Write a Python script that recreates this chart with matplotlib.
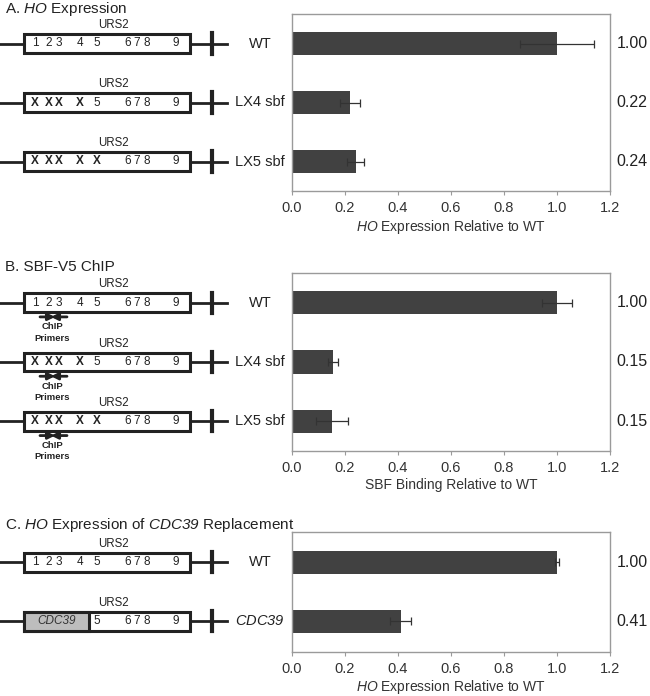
import matplotlib
matplotlib.use('Agg')
import matplotlib.pyplot as plt
from matplotlib.patches import Rectangle
from matplotlib.transforms import blended_transform_factory

plt.rcParams['font.family'] = ['Liberation Sans', 'DejaVu Sans']
plt.rcParams['mathtext.fontset'] = 'custom'
plt.rcParams['mathtext.rm'] = 'Liberation Sans'
# sf slot used for italic gene names so digits come out italic too
plt.rcParams['mathtext.sf'] = 'Liberation Sans:italic'
plt.rcParams['mathtext.it'] = 'Liberation Sans:italic'

# data
strains_a = ['WT', 'LX4 sbf', 'LX5 sbf']
expr_a = [1.00, 0.22, 0.24]
err_a = [0.14, 0.037, 0.031]

strains_b = ['WT', 'LX4 sbf', 'LX5 sbf']
bind_b = [1.00, 0.155, 0.15]
err_b = [0.057, 0.02, 0.061]

strains_c = ['WT', '$\\mathsf{CDC39}$']
expr_c = [1.00, 0.41]
err_c = [0.008, 0.039]

# number of mutated sites (from the left) for each promoter row
mut_a = [0, 4, 5]
mut_b = [0, 4, 5]
sites = ['1', '2', '3', '4', '5', '6', '7', '8', '9']

# layout (pixels)
W, H = 650, 696
site_x = [35, 49, 59, 80, 97, 128, 137, 147, 176]
box_l, box_r = 24, 190
INK = '#222222'

fig = plt.figure(figsize=(W / 100, H / 100), dpi=100)
over = fig.add_axes([0, 0, 1, 1])
over.set_xlim(0, W)
over.set_ylim(H, 0)
over.axis('off')


def px_axes(left, top, right, bottom):
    return fig.add_axes([left / W, (H - bottom) / H, (right - left) / W, (bottom - top) / H])


def promoter(ax, y, nmut=0, cdc=False, chip=False):
    tr = blended_transform_factory(over.transData, ax.transData)
    h = 0.32
    ax.plot([0, box_l], [y, y], color=INK, lw=2, transform=tr, clip_on=False)
    ax.plot([box_r, 227], [y, y], color=INK, lw=2, transform=tr, clip_on=False)
    ax.plot([212, 212], [y - 0.17, y + 0.17], color=INK, lw=3, transform=tr, clip_on=False)
    ax.add_patch(Rectangle((box_l, y - h / 2), box_r - box_l, h, facecolor='white',
                           edgecolor=INK, lw=2.2, transform=tr, clip_on=False, zorder=3))
    start = 0
    if cdc:
        ax.add_patch(Rectangle((box_l, y - h / 2), 89 - box_l, h, facecolor='#bdbdbd',
                               edgecolor=INK, lw=2.2, transform=tr, clip_on=False, zorder=4))
        ax.text((box_l + 89) / 2, y, 'CDC39', style='italic', fontsize=8.5, ha='center',
                va='center', color='#333333', transform=tr, zorder=5)
        start = 4
    for i in range(start, len(sites)):
        if i < nmut:
            ax.text(site_x[i], y, 'X', fontsize=8.5, fontweight='bold', ha='center',
                    va='center', color=INK, transform=tr, zorder=5)
        else:
            ax.text(site_x[i], y, sites[i], fontsize=8.5, ha='center', va='center',
                    color=INK, transform=tr, zorder=5)
    ax.text(113, y - 0.31, 'URS2', fontsize=8.3, ha='center', va='center',
            color=INK, transform=tr)
    if chip:
        yy = y + 0.24
        ax.annotate('', xy=(55, yy), xytext=(40, yy), xycoords=tr, textcoords=tr,
                    arrowprops=dict(arrowstyle='-|>', lw=2, color=INK, mutation_scale=10,
                                    shrinkA=0, shrinkB=0))
        ax.annotate('', xy=(51, yy), xytext=(67, yy), xycoords=tr, textcoords=tr,
                    arrowprops=dict(arrowstyle='-|>', lw=2, color=INK, mutation_scale=10,
                                    shrinkA=0, shrinkB=0))
        ax.text(52, y + 0.41, 'ChIP', fontsize=6.8, fontweight='bold', ha='center',
                va='center', color=INK, transform=tr)
        ax.text(52, y + 0.60, 'Primers', fontsize=6.8, fontweight='bold', ha='center',
                va='center', color=INK, transform=tr)


def bar_panel(ax, names, vals, errs, ylim, xlabel):
    pos = list(range(len(names)))
    ax.barh(pos, vals, height=0.39, color='#414141', zorder=2)
    ax.errorbar(vals, pos, xerr=errs, fmt='none', ecolor='#333333', elinewidth=0.9,
                capsize=3, capthick=0.9, zorder=3)
    ax.set_xlim(0, 1.2)
    ax.set_ylim(*ylim)
    ticks = [0, 0.2, 0.4, 0.6, 0.8, 1.0, 1.2]
    ax.set_xticks(ticks)
    ax.set_xticklabels(['%.1f' % t for t in ticks])
    ax.set_yticks([])
    for s in ax.spines.values():
        s.set_color('#9a9a9a')
        s.set_linewidth(1)
    ax.tick_params(axis='x', direction='out', length=3, color='#9a9a9a', labelsize=10.5,
                   labelcolor='#333333', pad=4)
    ax.set_xlabel(xlabel, fontsize=10, color='#333333', labelpad=2)
    tr = blended_transform_factory(over.transData, ax.transData)
    for p, n, v in zip(pos, names, vals):
        ax.text(260, p, n, fontsize=10.5, ha='center', va='center', color=INK, transform=tr)
        ax.text(632, p, '%.2f' % v, fontsize=11.5, ha='center', va='center', color=INK,
                transform=tr)


# panel A
axA = px_axes(292, 14, 610, 191)
bar_panel(axA, strains_a, expr_a, err_a, (2.5, -0.5), '$\\mathsf{HO}$ Expression Relative to WT')
for i, m in enumerate(mut_a):
    promoter(axA, i, nmut=m)
over.text(5, 13, 'A. $\\mathsf{HO}$ Expression', fontsize=11, ha='left', va='baseline',
          color=INK)

# panel B
axB = px_axes(292, 273, 610, 451)
bar_panel(axB, strains_b, bind_b, err_b, (2.5, -0.5), 'SBF Binding Relative to WT')
for i, m in enumerate(mut_b):
    promoter(axB, i, nmut=m, chip=True)
over.text(5, 271, 'B. SBF-V5 ChIP', fontsize=11, ha='left', va='baseline', color=INK)

# panel C
axC = px_axes(292, 532, 610, 652)
bar_panel(axC, strains_c, expr_c, err_c, (1.52, -0.51), '$\\mathsf{HO}$ Expression Relative to WT')
promoter(axC, 0)
promoter(axC, 1, cdc=True)
over.text(5, 529, 'C. $\\mathsf{HO}$ Expression of $\\mathsf{CDC39}$ Replacement', fontsize=11,
          ha='left', va='baseline', color=INK)

fig.savefig('out.png', dpi=100)
